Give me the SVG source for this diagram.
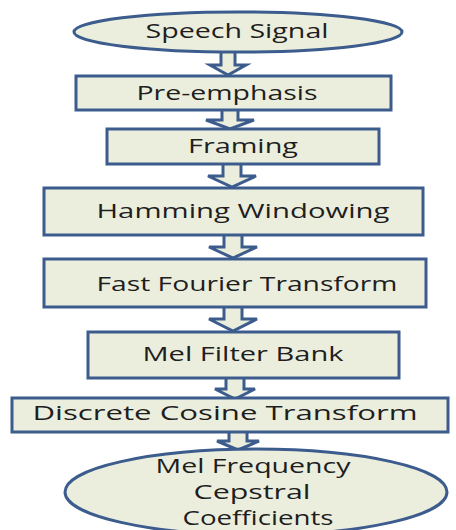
<svg xmlns="http://www.w3.org/2000/svg" width="456" height="530" viewBox="0 0 456 530">
  <style>
    .shape { fill: #eceedd; stroke: #3d5c8e; stroke-width: 3; }
    .arrow { fill: #eceedd; stroke: #3d5c8e; stroke-width: 3; stroke-linejoin: miter; }
    .label { font-family: "Open Sans", "Liberation Sans", sans-serif; font-size: 20px; fill: #1e1e1e; text-anchor: middle; }
  </style>
  <rect width="456" height="530" fill="#ffffff"/>

  <!-- block arrows between stages -->
  <g id="connectors">
    <path class="arrow" d="M221,51 V65 H210 L228,75 L246,65 H235 V51"/>
    <path class="arrow" d="M222,110 V120 H206 L230,129 L254,120 H238 V110"/>
    <path class="arrow" d="M223,164 V176 H208 L232,187 L256,176 H241 V164"/>
    <path class="arrow" d="M224,235 V247 H209 L233,258 L257,247 H242 V235"/>
    <path class="arrow" d="M224,307 V319 H209 L233,331 L257,319 H242 V307"/>
    <path class="arrow" d="M226,378 V389 H215 L235,399 L255,389 H244 V378"/>
    <path class="arrow" d="M229,432 V441 H217 L238,450 L259,441 H247 V432"/>
  </g>

  <g id="speech-signal">
    <ellipse class="shape" cx="238" cy="32" rx="164" ry="20"/>
    <text class="label" x="237" y="38" textLength="183" lengthAdjust="spacingAndGlyphs">Speech Signal</text>
  </g>

  <g id="pre-emphasis">
    <rect class="shape" x="76" y="76" width="315" height="34"/>
    <text class="label" x="227" y="100" textLength="181" lengthAdjust="spacingAndGlyphs">Pre-emphasis</text>
  </g>

  <g id="framing">
    <rect class="shape" x="107" y="129" width="272" height="35"/>
    <text class="label" x="243" y="153" textLength="110" lengthAdjust="spacingAndGlyphs">Framing</text>
  </g>

  <g id="hamming-windowing">
    <rect class="shape" x="44" y="188" width="379" height="47"/>
    <text class="label" x="243" y="218" textLength="293" lengthAdjust="spacingAndGlyphs">Hamming Windowing</text>
  </g>

  <g id="fft">
    <rect class="shape" x="44" y="259" width="382" height="48"/>
    <text class="label" x="247" y="291" textLength="301" lengthAdjust="spacingAndGlyphs">Fast Fourier Transform</text>
  </g>

  <g id="mel-filter-bank">
    <rect class="shape" x="88" y="332" width="311" height="46"/>
    <text class="label" x="243" y="361" textLength="201" lengthAdjust="spacingAndGlyphs">Mel Filter Bank</text>
  </g>

  <g id="dct">
    <rect class="shape" x="12" y="398" width="436" height="34"/>
    <text class="label" x="225" y="420" textLength="385" lengthAdjust="spacingAndGlyphs">Discrete Cosine Transform</text>
  </g>

  <g id="mfcc">
    <ellipse class="shape" cx="256" cy="492" rx="191" ry="43"/>
    <text class="label" x="253" y="473" textLength="195" lengthAdjust="spacingAndGlyphs">Mel Frequency</text>
    <text class="label" x="252" y="499" textLength="117" lengthAdjust="spacingAndGlyphs">Cepstral</text>
    <text class="label" x="258" y="525" textLength="151" lengthAdjust="spacingAndGlyphs">Coefficients</text>
  </g>
</svg>
